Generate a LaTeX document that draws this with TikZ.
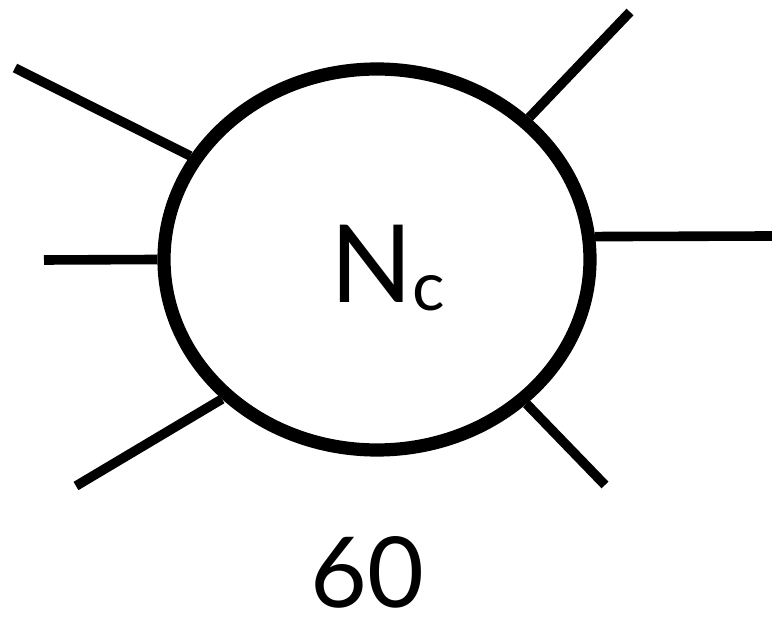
\documentclass[tikz,border=0pt]{standalone}
\usepackage{fontspec}
\setmainfont{Lato}
\usetikzlibrary{shapes.geometric}

\begin{document}
\begin{tikzpicture}[
  x=0.5pt, y=-0.5pt,
  cell/.style={draw, ellipse, line width=6.6pt, minimum width=213pt,
               minimum height=190.5pt, inner sep=0pt},
  spoke/.style={line width=4.8pt},
]
\useasboundingbox (0,0) rectangle (772,619);
\node[cell] (nc) at (377,259.5) {};
\node (lbl) at (388,268) {\fontsize{54}{60}\selectfont N\raisebox{-0.15ex}{\fontsize{34}{40}\selectfont c}};
\node[inner sep=0pt] (num) at (367,572) {\fontsize{49}{54}\selectfont 60};

\coordinate (s1) at (15,68);
\coordinate (s2) at (44,260);
\coordinate (s3) at (76,486);
\coordinate (s4) at (630,12);
\coordinate (s5) at (772,236);
\coordinate (s6) at (605,485);

\draw[spoke] (s1) -- (nc.151.5);
\draw[spoke] (s2) -- (nc.180);
\draw[spoke] (s3) -- (nc.222.6);
\draw[spoke] (s4) -- (nc.43);
\draw[spoke] (s5) -- (nc.6.3);
\draw[spoke] (s6) -- (nc.316);
\end{tikzpicture}
\end{document}
